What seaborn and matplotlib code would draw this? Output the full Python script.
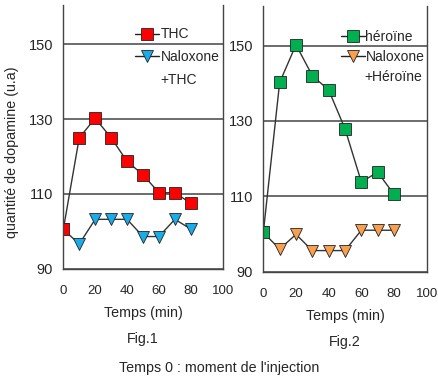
import matplotlib
matplotlib.use('Agg')
import matplotlib.pyplot as plt
from matplotlib.lines import Line2D
import seaborn as sns
import pandas as pd

# ==========================================
# Données
# ==========================================
temps = [0, 10, 20, 30, 40, 50, 60, 70, 80]

thc = [100.5, 125, 130.2, 125, 118.7, 115.1, 110.3, 110.3, 107.5]
naloxone_thc = [100.5, 96.6, 103.2, 103.2, 103.2, 98.6, 98.6, 103.2, 100.6]

heroine = [100.4, 140.2, 150.2, 142, 138.2, 127.9, 113.8, 116.4, 110.5]
naloxone_heroine = [100.4, 96, 99.9, 95.6, 95.6, 95.6, 101, 101, 101]

x_ticks = [0, 20, 40, 60, 80, 100]
y_ticks = [90, 110, 130, 150]

sns.set_style('white')
plt.rcParams['font.family'] = ['Liberation Sans', 'DejaVu Sans']

fig = plt.figure(figsize=(4.39, 3.82), dpi=100)
ax1 = fig.add_axes([0.1442, 0.2966, 0.3631, 0.6904])
ax2 = fig.add_axes([0.5998, 0.2888, 0.3722, 0.6956])


def draw_panel(ax, y_main, y_nal, lab_main, lab_nal, lab_nal2, col_main, col_nal,
               fig_name, leg_anchor, textpad, spacing):
    df = pd.DataFrame({'t': temps, 'main': y_main, 'nal': y_nal})
    sns.lineplot(data=df, x='t', y='nal', ax=ax, color='#333333', lw=1.0,
                 marker='v', markersize=8.5, markerfacecolor=col_nal,
                 markeredgecolor='#222222', markeredgewidth=0.6, legend=False)
    sns.lineplot(data=df, x='t', y='main', ax=ax, color='#333333', lw=1.0,
                 marker='s', markersize=9, markerfacecolor=col_main,
                 markeredgecolor='#222222', markeredgewidth=0.6, legend=False)

    ax.set_xlim(0, 100)
    ax.set_ylim(90, 160.5)
    ax.set_xticks(x_ticks)
    ax.set_yticks(y_ticks)
    ax.tick_params(axis='x', direction='in', length=4, labelsize=9.5, pad=12, color='#333333')
    ax.tick_params(axis='y', direction='inout', length=7, labelsize=10.5, pad=4, color='#333333')
    ax.yaxis.grid(True, color='#444444', lw=1.1)
    ax.set_axisbelow(True)
    for side in ['left', 'bottom', 'right']:
        ax.spines[side].set_color('#444444')
        ax.spines[side].set_linewidth(1.0)
    ax.spines['top'].set_visible(False)
    ax.set_xlabel('Temps (min)', fontsize=10.3, labelpad=6)
    ax.set_ylabel('')
    ax.text(0.5, -0.265, fig_name, transform=ax.transAxes, ha='center', va='center', fontsize=10.3)

    # légende : le 2e libellé sur deux lignes, sans symbole pour la 2e ligne
    h_main = Line2D([], [], color='#222222', lw=1.0, marker='s', markersize=9,
                    markerfacecolor=col_main, markeredgecolor='#222222', markeredgewidth=0.6)
    h_nal = Line2D([], [], color='#222222', lw=1.0, marker='v', markersize=8.5,
                   markerfacecolor=col_nal, markeredgecolor='#222222', markeredgewidth=0.6)
    h_empty = Line2D([], [], color='none')
    leg = ax.legend([h_main, h_nal, h_empty], [lab_main, lab_nal, lab_nal2],
                    loc='upper left', bbox_to_anchor=leg_anchor, frameon=False,
                    fontsize=10, handlelength=1.7, handletextpad=textpad,
                    labelspacing=spacing, borderaxespad=0, borderpad=0)
    return leg


leg1 = draw_panel(ax1, thc, naloxone_thc, 'THC', 'Naloxone', '+THC', '#FF0000', '#1AACE6',
                  'Fig.1', (0.45, 0.915), 0.12, 0.62)
leg2 = draw_panel(ax2, heroine, naloxone_heroine, 'héroïne', 'Naloxone', '+Héroïne',
                  '#00B050', '#F9A04E', 'Fig.2', (0.475, 0.91), 0.02, 0.42)
# aligner les deuxièmes lignes
for leg in (leg1, leg2):
    t = leg.get_texts()
    t[1].set_position((1, 0))

ax1.set_ylabel('quantité de dopamine (u.a)', fontsize=10.3)
ax1.yaxis.set_label_coords(-0.28, 0.44)

fig.text(0.5, 0.037, "Temps 0 : moment de l'injection", ha='center', va='center', fontsize=10.3)

fig.savefig('out.png', dpi=100)
